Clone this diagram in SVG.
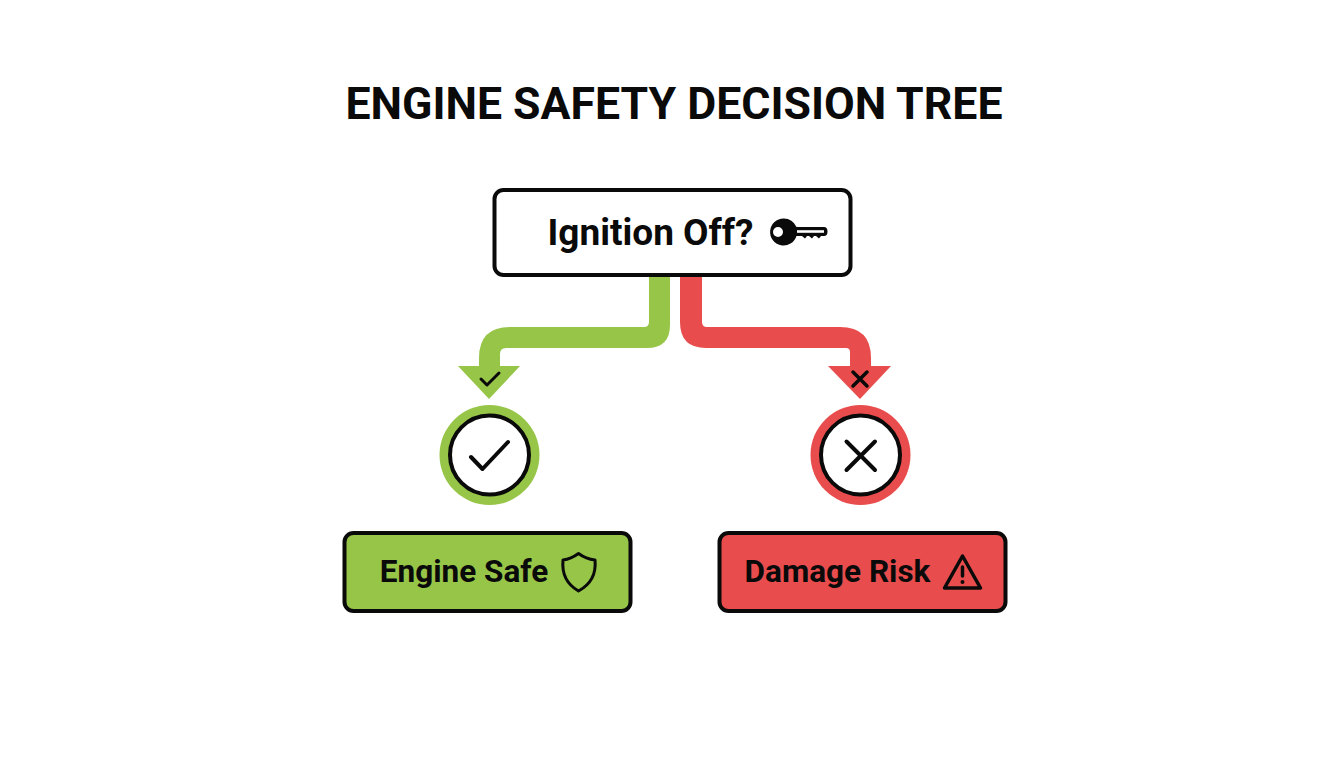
<svg xmlns="http://www.w3.org/2000/svg" width="1344" height="768" viewBox="0 0 1344 768">
<style>
text{font-family:Roboto,"Liberation Sans",sans-serif;font-weight:700;fill:#0a0a0a}
.box{stroke:#0a0a0a;stroke-width:4}
.ic{fill:none;stroke:#0a0a0a;stroke-linecap:round;stroke-linejoin:round}
.g{fill:#96c548}
.r{fill:#e84c4c}
</style>
<rect width="1344" height="768" fill="#fff"/>
<text x="674" y="119" font-size="44.600" text-anchor="middle" id="title">ENGINE SAFETY DECISION TREE</text>
<g id="connectors">
<path class="g" d="M649 275V322Q649 327 644 327H510Q479 327 479 358V370H500V354Q500 348 506 348H647Q670 348 670 325V275Z"/>
<polygon class="g" points="458,366 520,366 489,399"/>
<path class="ic" stroke-width="3" d="M481 379L487 385L499 373"/>
<path class="r" d="M680 275V322Q680 348 706 348H846Q850 348 850 352V370H871V358Q871 327 840 327H707Q702 327 702 322V275Z"/>
<polygon class="r" points="828,366 891,366 860,399"/>
<path class="ic" stroke-width="3.500" d="M853 372L867 386M867 372L853 386"/>
</g>
<g id="node-ignition">
<rect class="box" x="494.500" y="190" width="356" height="85" rx="9" fill="#fff"/>
<text x="650.500" y="245" font-size="37" text-anchor="middle">Ignition Off?</text>
<g id="key-icon">
<path fill="#0a0a0a" fill-rule="evenodd" d="M783.500 218.500A13.500 13.500 0 0 1 796.500 227H824Q827.500 227 827.500 231.500Q827.500 236 824 236H821L819 238.500L816 236H814L812 238.500L809 236H807L805 238.500L802 236H796.500A13.500 13.500 0 1 1 783.500 218.500ZM778 227A5 5 0 1 0 778 237A5 5 0 1 0 778 227Z"/>
<rect x="797" y="230.200" width="27" height="2.600" fill="#fff"/>
</g>
</g>
<g id="node-check">
<circle cx="489.500" cy="455" r="50" class="g"/>
<circle cx="489.500" cy="455" r="39.500" fill="#fff" stroke="#0a0a0a" stroke-width="4"/>
<path class="ic" stroke-width="4" d="M471 457L482.500 469L508 442"/>
</g>
<g id="node-cross">
<circle cx="860.500" cy="455" r="50" class="r"/>
<circle cx="860.500" cy="455" r="39.500" fill="#fff" stroke="#0a0a0a" stroke-width="4"/>
<path class="ic" stroke-width="4" d="M846.500 441.500L875 470M875 441.500L846.500 470"/>
</g>
<g id="node-safe">
<rect class="box g" x="344.500" y="533" width="286" height="78" rx="9"/>
<text x="464" y="582" font-size="31.500" text-anchor="middle">Engine Safe</text>
<path class="ic" stroke-width="3" d="M578.500 553.500Q586 559 595 560Q597 581 578.500 591Q561 581 563 560Q571 559 578.500 553.500Z"/>
</g>
<g id="node-risk">
<rect class="box r" x="719.500" y="533" width="286" height="78" rx="9"/>
<text x="837.500" y="582" font-size="31.500" text-anchor="middle">Damage Risk</text>
<path class="ic" stroke-width="3.500" d="M962.500 556L980.500 588H944.500Z"/>
<path class="ic" stroke-width="3.500" d="M962.500 567V576"/>
<circle cx="962.500" cy="582" r="2" fill="#0a0a0a"/>
</g>
</svg>
